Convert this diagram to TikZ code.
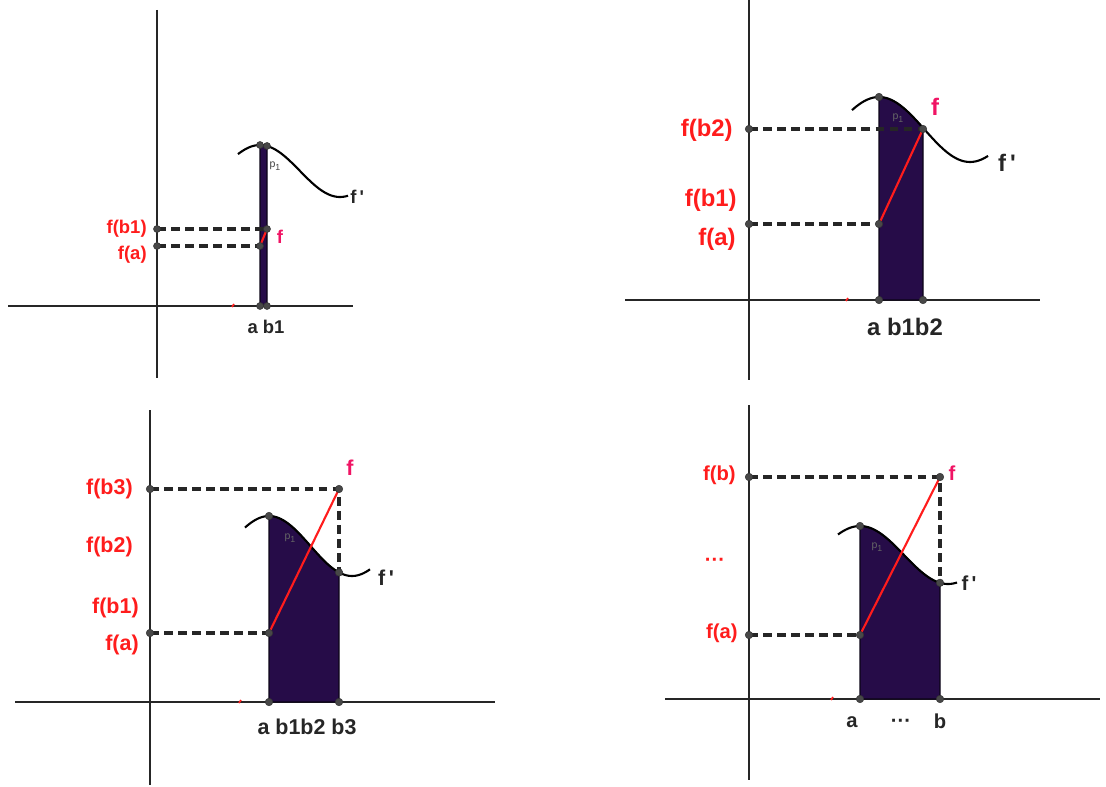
\documentclass[tikz,border=0pt]{standalone}
\usepackage{fontspec}
\setmainfont{Liberation Sans}
\usepackage[dvipsnames]{xcolor}
\definecolor{ggred}{RGB}{255,28,28}
\definecolor{ggpink}{RGB}{240,20,100}
\definecolor{ggfill}{RGB}{38,12,72}
\definecolor{ggdot}{RGB}{72,72,72}
\usetikzlibrary{calc}
\tikzset{
  axis/.style={line width=1.3pt, black!85},
  guide/.style={line width=1.8pt, dash pattern=on 5pt off 3pt, black!85},
  fprime/.style={line width=1.2pt, black},
  chord/.style={line width=1.2pt, ggred},
  area/.style={fill=ggfill, draw=black!70!ggfill, line width=0.8pt},
  lab/.style={text=ggred, inner sep=0pt},
  fname/.style={text=ggpink, inner sep=0pt},
  xlab/.style={text=black!85, inner sep=0pt},
  dot/.style={fill=ggdot, draw=black!80, line width=0.3pt},
  tick/.style={ggred, line width=1pt},
  declare function={
    fpA(\x)=171-26*cos((\x-260)/80*180);
    fpB(\x)=129.5-32.5*cos((\x-879)/91*180);
    fpC(\x)=546-30*cos((\x-269)/83*180);
    fpD(\x)=555-29*cos((\x-860)/88*180);
  }
}
\newcommand{\pone}{{\fontsize{6}{6}\selectfont\mdseries p\raisebox{-1.5pt}{\fontsize{5}{5}\selectfont 1}}}
\newcommand{\fpr}{f\,\textquotesingle}

\begin{document}
\begin{tikzpicture}[x=0.02cm, y=-0.02cm]
  \useasboundingbox (0,0) rectangle (1106,787);

  % top left
  \begin{scope}[every node/.append style={font=\fontsize{10.5}{12}\selectfont\bfseries}]
    \draw[axis] (157,10) -- (157,378);
    \draw[axis] (8,306) -- (353,306);
    \draw[tick] (232,307) -- (234,304);
    \coordinate (A0) at (260,306);
    \coordinate (B0) at (267,306);
    \coordinate (Aa) at (260,{fpA(260)});
    \coordinate (Ab) at (267,{fpA(267)});
    \coordinate (Fa) at (260,246);
    \coordinate (Fb) at (267,229);
    \coordinate (Ya) at (157,246);
    \coordinate (Yb) at (157,229);
    \filldraw[area] (A0) -- plot[domain=260:267, samples=8] (\x,{fpA(\x)}) -- (B0) -- cycle;
    \draw[fprime] plot[domain=238:348, samples=60] (\x,{fpA(\x)});
    \draw[guide] (Yb) -- (Fb);
    \draw[guide] (Ya) -- (Fa);
    \draw[chord] (Fa) -- (Fb);
    \fill[dot] foreach \p in {A0,B0,Aa,Ab,Fa,Fb,Ya,Yb}{(\p) circle [radius=0.07cm]};
    \node[lab, anchor=east] (lfb) at (147,229) {f(b1)};
    \node[lab, anchor=east] (lfa) at (147,255) {f(a)};
    \node[fname] (lf) at (280,237) {f};
    \node[xlab, anchor=west] (lfp) at (350,197) {\fpr};
    \node[text=black!75, inner sep=0pt] (lp) at (275,166) {\pone};
    \node[xlab] (lx) at (266,327) {a b1};
  \end{scope}

  % top right
  \begin{scope}[every node/.append style={font=\fontsize{13.6}{15}\selectfont\bfseries}]
    \draw[axis] (749,0) -- (749,380);
    \draw[axis] (625,300) -- (1040,300);
    \draw[tick] (846,301) -- (848,298);
    \coordinate (A0) at (879,300);
    \coordinate (B0) at (923,300);
    \coordinate (Aa) at (879,{fpB(879)});
    \coordinate (Fa) at (879,224);
    \coordinate (Fb) at (923,129);
    \coordinate (Ya) at (749,224);
    \coordinate (Yb) at (749,129);
    \filldraw[area] (A0) -- plot[domain=879:923, samples=20] (\x,{fpB(\x)}) -- (B0) -- cycle;
    \draw[fprime] plot[domain=852:988, samples=60] (\x,{fpB(\x)});
    \draw[guide] (Yb) -- (Fb);
    \draw[guide] (Ya) -- (Fa);
    \draw[chord] (Fa) -- (Fb);
    \fill[dot] foreach \p in {A0,B0,Aa,Fa,Fb,Ya,Yb}{(\p) circle [radius=0.075cm]};
    \node[lab, anchor=east] (lfb2) at (733,130) {f(b2)};
    \node[lab, anchor=east] (lfb1) at (737,200) {f(b1)};
    \node[lab, anchor=east] (lfa) at (736,239) {f(a)};
    \node[fname] (lf) at (935,107) {f};
    \node[xlab] (lfp) at (1007,163) {\fpr};
    \node[text=black!60, inner sep=0pt] (lp) at (898,118) {\pone};
    \node[xlab] (lx) at (905,327) {a b1b2};
  \end{scope}

  % bottom left
  \begin{scope}[every node/.append style={font=\fontsize{12.2}{14}\selectfont\bfseries}]
    \draw[axis] (150,410) -- (150,785);
    \draw[axis] (15,702) -- (495,702);
    \draw[tick] (239,703) -- (241,700);
    \coordinate (A0) at (269,702);
    \coordinate (B0) at (339,702);
    \coordinate (Aa) at (269,{fpC(269)});
    \coordinate (Ab) at (339,{fpC(339)});
    \coordinate (Fa) at (269,633);
    \coordinate (Fb) at (339,489);
    \coordinate (Ya) at (150,633);
    \coordinate (Yb) at (150,489);
    \filldraw[area] (A0) -- plot[domain=269:339, samples=30] (\x,{fpC(\x)}) -- (B0) -- cycle;
    \draw[fprime] plot[domain=245:370, samples=60] (\x,{fpC(\x)});
    \draw[guide] (Yb) -- (Fb) -- (Ab);
    \draw[guide] (Ya) -- (Fa);
    \draw[chord] (Fa) -- (Fb);
    \fill[dot] foreach \p in {A0,B0,Aa,Ab,Fa,Fb,Ya,Yb}{(\p) circle [radius=0.075cm]};
    \node[lab, anchor=east] (lfb3) at (133,489) {f(b3)};
    \node[lab, anchor=east] (lfb2) at (133,547) {f(b2)};
    \node[lab, anchor=east] (lfb1) at (139,608) {f(b1)};
    \node[lab, anchor=east] (lfa) at (139,645) {f(a)};
    \node[fname] (lf) at (350,468) {f};
    \node[xlab] (lfp) at (386,578) {\fpr};
    \node[text=black!60, inner sep=0pt] (lp) at (290,538) {\pone};
    \node[xlab] (lx) at (307,727) {a b1b2 b3};
  \end{scope}

  % bottom right
  \begin{scope}[every node/.append style={font=\fontsize{11.5}{13}\selectfont\bfseries}]
    \draw[axis] (749,405) -- (749,780);
    \draw[axis] (665,699) -- (1100,699);
    \draw[tick] (831,700) -- (833,697);
    \coordinate (A0) at (860,699);
    \coordinate (B0) at (940,699);
    \coordinate (Aa) at (860,{fpD(860)});
    \coordinate (Ab) at (940,{fpD(940)});
    \coordinate (Fa) at (860,635);
    \coordinate (Fb) at (940,477);
    \coordinate (Ya) at (749,635);
    \coordinate (Yb) at (749,477);
    \filldraw[area] (A0) -- plot[domain=860:940, samples=30] (\x,{fpD(\x)}) -- (B0) -- cycle;
    \draw[fprime] plot[domain=838:957, samples=60] (\x,{fpD(\x)});
    \draw[guide] (Yb) -- (Fb) -- (Ab);
    \draw[guide] (Ya) -- (Fa);
    \draw[chord] (Fa) -- (Fb);
    \fill[dot] foreach \p in {A0,B0,Aa,Ab,Fa,Fb,Ya,Yb}{(\p) circle [radius=0.075cm]};
    \node[lab, anchor=east] (lfb) at (736,475) {f(b)};
    \node[lab] (ldots) at (715,562) {···};
    \node[lab, anchor=east] (lfa) at (738,633) {f(a)};
    \node[fname] (lf) at (952,473) {f};
    \node[xlab] (lfp) at (969,583) {\fpr};
    \node[text=black!60, inner sep=0pt] (lp) at (877,547) {\pone};
    \node[xlab] (la) at (852,722) {a};
    \node[xlab] (ldd) at (901,723) {···};
    \node[xlab] (lb) at (940,721) {b};
  \end{scope}
\end{tikzpicture}
\end{document}
